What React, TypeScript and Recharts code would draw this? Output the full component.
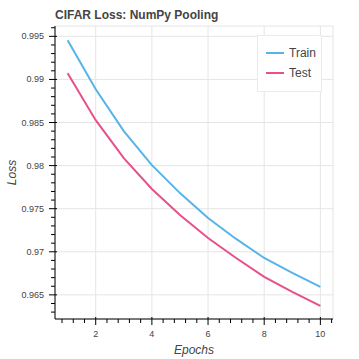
import { CartesianGrid, Legend, Line, LineChart, ReferenceArea, XAxis, YAxis } from "recharts";

const epochs = [1, 2, 3, 4, 5, 6, 7, 8, 9, 10];
const trainLoss = [0.99454, 0.98886, 0.984, 0.98006, 0.97681, 0.97392, 0.97149, 0.96928, 0.96755, 0.96593];
const testLoss = [0.99071, 0.98527, 0.98087, 0.97728, 0.97427, 0.9716, 0.96928, 0.96708, 0.96535, 0.96373];

const xMajorTicks = [2, 4, 6, 8, 10];
const xMinorTicks = [0.8, 1.2, 1.6, 2, 2.4, 2.8, 3.2, 3.6, 4, 4.4, 4.8, 5.2, 5.6, 6, 6.4, 6.8, 7.2, 7.6, 8, 8.4, 8.8, 9.2, 9.6, 10, 10.4];
const yMajorTicks = [0.965, 0.97, 0.975, 0.98, 0.985, 0.99, 0.995];
const yTickLabels = ["0.965", "0.97", "0.975", "0.98", "0.985", "0.99", "0.995"];
const yMinorTicks = [
  0.963, 0.964, 0.965, 0.966, 0.967, 0.968, 0.969, 0.97, 0.971, 0.972, 0.973, 0.974,
  0.975, 0.976, 0.977, 0.978, 0.979, 0.98, 0.981, 0.982, 0.983, 0.984, 0.985, 0.986,
  0.987, 0.988, 0.989, 0.99, 0.991, 0.992, 0.993, 0.994, 0.995, 0.996,
];

const xDomain: [number, number] = [0.55, 10.45];
const yDomain: [number, number] = [0.9622, 0.9962];

const TRAIN_COLOR = "#56b4e9";
const TEST_COLOR = "#e7508a";
const FONT = "'Liberation Sans', Arial, Helvetica, sans-serif";

const data = epochs.map((e, i) => ({ epoch: e, train: trainLoss[i], test: testLoss[i] }));

const findIdx = (arr: number[], v: number) => arr.findIndex((t) => Math.abs(t - v) < 1e-9);

const XTick = (props: any) => {
  const { x, y, payload } = props;
  const major = findIdx(xMajorTicks, payload.value) >= 0;
  return (
    <g>
      <line x1={x} x2={x} y1={major ? y - 2 : y} y2={y + (major ? 6 : 4)} stroke="#000" />
      {major && (
        <text x={x} y={y + 18} textAnchor="middle" fontSize={9} fill="#444" fontFamily={FONT}>
          {payload.value}
        </text>
      )}
    </g>
  );
};

const YTick = (props: any) => {
  const { x, y, payload } = props;
  const idx = findIdx(yMajorTicks, payload.value);
  const major = idx >= 0;
  return (
    <g>
      <line x1={x - (major ? 6 : 4)} x2={x + (major ? 2 : 0)} y1={y} y2={y} stroke="#000" />
      {major && (
        <text x={x - 11} y={y + 3} textAnchor="end" fontSize={9} fill="#444" fontFamily={FONT}>
          {yTickLabels[idx]}
        </text>
      )}
    </g>
  );
};

const LegendBox = () => (
  <div
    style={{
      width: 63,
      height: 55,
      background: "#fff",
      border: "1px solid #ebebeb",
      fontFamily: FONT,
      fontSize: 12,
      color: "#444",
      position: "relative",
    }}
  >
    {[
      { name: "Train", color: TRAIN_COLOR, top: 17 },
      { name: "Test", color: TEST_COLOR, top: 37 },
    ].map((it) => (
      <div key={it.name}>
        <div
          style={{
            position: "absolute",
            left: 8,
            top: it.top - 1,
            width: 18,
            height: 2,
            background: it.color,
          }}
        />
        <div style={{ position: "absolute", left: 31, top: it.top - 7, lineHeight: "14px" }}>{it.name}</div>
      </div>
    ))}
  </div>
);

export default function App() {
  return (
    <div style={{ position: "absolute", left: 0, top: 0, width: 359, height: 359, background: "#fff" }}>
      <div
        style={{
          position: "absolute",
          left: 55,
          top: 9,
          fontFamily: FONT,
          fontSize: 12,
          fontWeight: "bold",
          lineHeight: "12px",
          color: "#444",
          whiteSpace: "nowrap",
        }}
      >
        CIFAR Loss: NumPy Pooling
      </div>
      <LineChart width={359} height={359} data={data} margin={{ top: 26, right: 26, left: 0, bottom: 0 }}>
        <CartesianGrid
          stroke="#e5e5e5"
          horizontalValues={yMajorTicks}
          verticalValues={xMajorTicks}
        />
        <ReferenceArea
          x1={xDomain[0]}
          x2={xDomain[1]}
          y1={yDomain[0]}
          y2={yDomain[1]}
          fill="none"
          stroke="#e5e5e5"
          ifOverflow="visible"
        />
        <XAxis
          dataKey="epoch"
          type="number"
          domain={xDomain}
          allowDataOverflow
          ticks={xMinorTicks}
          interval={0}
          tickSize={0}
          tickMargin={0}
          tickLine={false}
          tick={<XTick />}
          height={40}
          axisLine={{ stroke: "#000" }}
          label={{
            value: "Epochs",
            position: "insideBottom",
            offset: 5,
            style: { fontFamily: FONT, fontSize: 12, fontStyle: "italic", fill: "#444" },
          }}
        />
        <YAxis
          type="number"
          domain={yDomain}
          allowDataOverflow
          ticks={yMinorTicks}
          interval={0}
          tickSize={0}
          tickMargin={0}
          tickLine={false}
          tick={<YTick />}
          width={55}
          axisLine={{ stroke: "#000" }}
          label={{
            value: "Loss",
            angle: -90,
            position: "insideLeft",
            offset: 12,
            style: { fontFamily: FONT, fontSize: 12, fontStyle: "italic", fill: "#444", textAnchor: "middle" },
          }}
        />
        <Line dataKey="train" name="Train" stroke={TRAIN_COLOR} strokeWidth={2} dot={false} isAnimationActive={false} />
        <Line dataKey="test" name="Test" stroke={TEST_COLOR} strokeWidth={2} dot={false} isAnimationActive={false} />
        <Legend
          layout="horizontal"
          verticalAlign="middle"
          align="center"
          content={<LegendBox />}
          wrapperStyle={{ position: "absolute", left: 257, top: 35, width: 65, height: 57 }}
        />
      </LineChart>
    </div>
  );
}
